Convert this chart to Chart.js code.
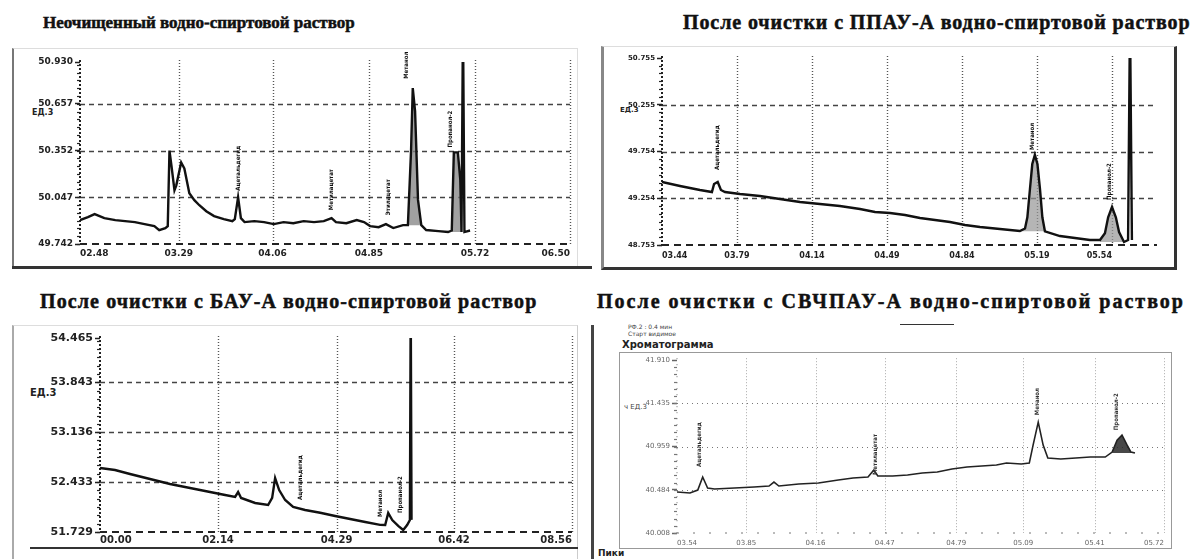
<!DOCTYPE html>
<html lang="ru">
<head>
<meta charset="utf-8">
<title>Хроматограммы водно-спиртовых растворов</title>
<script src="https://cdn.jsdelivr.net/npm/chart.js@4.4.1/dist/chart.umd.min.js"></script>
<style>
  html, body { margin: 0; padding: 0; background: #fff; }
  body { width: 1193px; height: 559px; position: relative; overflow: hidden; font-family: 'DejaVu Sans', sans-serif; }
  .title { position: absolute; font-family: 'Liberation Serif', serif; font-weight: bold; font-size: 20px; color: #111;
           white-space: nowrap; line-height: 1; -webkit-text-stroke: 0.5px #111; }
  .box { position: absolute; box-sizing: border-box; }
  .txt { position: absolute; white-space: nowrap; color: #222; line-height: 1; }
  canvas { position: absolute; z-index: 2; }
</style>
</head>
<body>

<div class="title" style="left:43px; top:14px; font-size:17px;">Неочищенный водно-спиртовой раствор</div>
<div class="title" style="left:683px; top:12px; letter-spacing:0.9px;">После очистки с ППАУ-А водно-спиртовой раствор</div>
<div class="title" style="left:40px; top:291px; letter-spacing:1.1px;">После очистки с БАУ-А водно-спиртовой раствор</div>
<div class="title" style="left:597px; top:291px; letter-spacing:2px;">После очистки с СВЧПАУ-А водно-спиртовой раствор</div>

<!-- рамки панелей -->
<div class="box" style="left:12px; top:48px; width:566px; height:221px; border-left:2px solid #777; border-top:1px solid #ddd; border-right:1px solid #ddd;"></div>
<div class="box" style="left:12px; top:266px; width:580px; height:3px; background:#333;"></div>
<div class="box" style="left:601px; top:46px; width:576px; height:224px; border-left:3px solid #888; border-right:3px solid #333; border-bottom:3px solid #333; border-top:1px solid #ddd;"></div>
<div class="box" style="left:12px; top:325px; width:566px; height:234px; border-left:2px solid #aaa; border-top:1px solid #ddd; border-right:1px solid #ccc;"></div>
<div class="box" style="left:30px; top:547px; width:548px; height:2px; background:#333;"></div>
<div class="box" style="left:591px; top:325px; width:3px; height:234px; background:#444;"></div>
<div class="box" style="left:619px; top:352px; width:553px; height:197px; border:1px solid #999;"></div>
<div class="box" style="left:900px; top:324px; width:54px; height:1px; background:#333;"></div>

<div class="txt" style="left:628px; top:324px; font-size:6px; color:#444;">РФ.2 : 0.4 мин</div>
<div class="txt" style="left:628px; top:331px; font-size:6px; color:#444;">Старт видимое</div>
<div class="txt" style="left:622px; top:340px; font-size:10px; font-weight:bold;">Хроматограмма</div>
<div class="txt" style="left:598px; top:549px; font-size:9px; font-weight:bold;">Пики</div>

<!-- единицы по оси сигнала -->
<div class="txt" style="left:32px; top:109px; font-size:8px; font-weight:bold;">ЕД.3</div>
<div class="txt" style="left:620px; top:107px; font-size:7px; font-weight:bold;">ЕД.3</div>
<div class="txt" style="left:30px; top:388px; font-size:10px; font-weight:bold;">ЕД.3</div>
<div class="txt" style="left:624px; top:404px; font-size:7px; color:#444;">ч ЕД.3</div>

<canvas id="c1"></canvas>
<canvas id="c2"></canvas>
<canvas id="c3"></canvas>
<canvas id="c4"></canvas>

<script>
// Неочищенный раствор: время, мин / сигнал
const time1 = [2.48, 2.545, 2.60, 2.68, 2.77, 2.85, 2.93, 3.01, 3.09, 3.13, 3.18, 3.20, 3.214, 3.23, 3.255, 3.27,
  3.31, 3.336, 3.377, 3.418, 3.459, 3.516, 3.58, 3.66, 3.73, 3.75, 3.777, 3.80, 3.83, 3.91, 3.99, 4.07, 4.15, 4.23,
  4.315, 4.40, 4.48, 4.544, 4.58, 4.665, 4.75, 4.81, 4.86, 4.93, 4.99, 5.05, 5.13, 5.17, 5.196, 5.21, 5.229, 5.253,
  5.28, 5.32, 5.42, 5.50, 5.53, 5.547, 5.58, 5.60, 5.61, 5.622, 5.634, 5.68];
const signal1 = [49.898, 49.917, 49.937, 49.911, 49.898, 49.891, 49.885, 49.872, 49.859, 49.833, 49.846, 49.859, 50.352,
  50.255, 50.093, 50.125, 50.274, 50.235, 50.073, 50.028, 49.995, 49.956, 49.924, 49.904, 49.891, 49.904, 50.047, 49.911,
  49.885, 49.891, 49.885, 49.872, 49.885, 49.878, 49.891, 49.885, 49.891, 49.911, 49.885, 49.878, 49.898, 49.885, 49.859,
  49.852, 49.872, 49.846, 49.865, 49.865, 50.352, 50.760, 50.610, 50.030, 49.865, 49.833, 49.826, 49.820, 49.830, 50.340,
  50.340, 50.160, 49.820, 51.200, 49.820, 49.830];
const xTicks1 = [2.48, 3.29, 4.06, 4.85, 5.72, 6.50];
const yTicks1 = [49.742, 50.047, 50.352, 50.657, 50.930];
const peakNames1 = ['Ацетальдегид', 'Метилацетат', 'Этилацетат', 'Метанол', 'Пропанол-2'];
const peakTimes1 = [3.777, 4.544, 5.009, 5.155, 5.52];
const peakLevels1 = [50.09, 49.963, 49.93, 50.82, 50.372];
const peakFrom1 = [5.17, 5.53];
const peakTo1 = [5.28, 5.61];

// После очистки с ППАУ-А
const time2 = [3.44, 3.524, 3.617, 3.673, 3.683, 3.70, 3.715, 3.734, 3.804, 3.897, 3.99, 4.084, 4.177, 4.27, 4.364,
  4.434, 4.504, 4.574, 4.644, 4.714, 4.784, 4.854, 4.924, 5.017, 5.11, 5.134, 5.145, 5.157, 5.168, 5.18, 5.192, 5.204,
  5.215, 5.227, 5.297, 5.367, 5.437, 5.484, 5.507, 5.522, 5.54, 5.558, 5.573, 5.596, 5.615, 5.624, 5.633];
const signal2 = [49.428, 49.385, 49.342, 49.320, 49.406, 49.428, 49.342, 49.320, 49.299, 49.278, 49.245, 49.213, 49.192,
  49.170, 49.138, 49.106, 49.096, 49.074, 49.042, 49.020, 48.999, 48.967, 48.946, 48.924, 48.903, 48.930, 49.050, 49.350,
  49.620, 49.717, 49.620, 49.350, 49.050, 48.900, 48.849, 48.828, 48.806, 48.806, 48.880, 49.050, 49.160, 49.050, 48.892,
  48.785, 48.806, 51.200, 48.806];
const xTicks2 = [3.44, 3.79, 4.14, 4.49, 4.84, 5.19, 5.54];
const yTicks2 = [48.753, 49.254, 49.754, 50.255, 50.755];
const peakNames2 = ['Ацетальдегид', 'Метанол', 'Пропанол-2'];
const peakTimes2 = [3.697, 5.171, 5.53];
const peakLevels2 = [49.556, 49.77, 49.235];
const peakFrom2 = [5.11, 5.484];
const peakTo2 = [5.227, 5.596];

// После очистки с БАУ-А
const time3 = [0, 0.272, 0.544, 0.907, 1.27, 1.633, 1.996, 2.269, 2.45, 2.505, 2.559, 2.813, 3.049, 3.122, 3.176, 3.249,
  3.358, 3.503, 3.72, 3.993, 4.265, 4.537, 4.81, 5.08, 5.172, 5.227, 5.30, 5.408, 5.499, 5.57, 5.62, 5.635, 5.65];
const signal3 = [52.632, 52.603, 52.547, 52.476, 52.406, 52.350, 52.293, 52.251, 52.223, 52.293, 52.209, 52.138, 52.110,
  52.209, 52.490, 52.321, 52.180, 52.082, 52.039, 52.000, 51.955, 51.912, 51.870, 51.830, 51.828, 51.997, 51.898, 51.814,
  51.757, 51.828, 51.898, 55.000, 51.900];
const xTicks3 = [0, 2.14, 4.29, 6.42, 8.56];
const yTicks3 = [51.729, 52.433, 53.136, 53.843, 54.465];
const peakNames3 = ['Ацетальдегид', 'Метанол', 'Пропанол-2'];
const peakTimes3 = [3.63, 5.08, 5.44];
const peakLevels3 = [52.18, 51.94, 51.997];

// После очистки с СВЧПАУ-А
const time4 = [3.54, 3.598, 3.633, 3.655, 3.677, 3.708, 3.797, 3.885, 3.952, 3.974, 3.996, 4.085, 4.173, 4.262, 4.328,
  4.395, 4.421, 4.439, 4.505, 4.572, 4.638, 4.705, 4.771, 4.838, 4.904, 4.97, 5.015, 5.081, 5.117, 5.134, 5.157, 5.179,
  5.20, 5.258, 5.325, 5.39, 5.457, 5.488, 5.51, 5.532, 5.555, 5.572, 5.59];
const signal4 = [40.459, 40.448, 40.481, 40.624, 40.503, 40.492, 40.503, 40.514, 40.525, 40.569, 40.525, 40.547, 40.558,
  40.591, 40.613, 40.624, 40.701, 40.635, 40.635, 40.646, 40.668, 40.679, 40.712, 40.734, 40.745, 40.756, 40.778, 40.767,
  40.778, 40.975, 41.228, 40.975, 40.833, 40.822, 40.833, 40.844, 40.844, 40.899, 41.030, 41.085, 40.975, 40.899, 40.888];
const xTicks4 = [3.54, 3.85, 4.16, 4.47, 4.79, 5.09, 5.41, 5.72];
const yTicks4 = [40.008, 40.484, 40.959, 41.435, 41.910];
const peakNames4 = ['Ацетальдегид', 'Метилацетат', 'Метанол', 'Пропанол-2'];
const peakTimes4 = [3.642, 4.43, 5.152, 5.506];
const peakLevels4 = [40.734, 40.646, 41.305, 41.14];
const peakFrom4 = [5.488];
const peakTo4 = [5.59];

const fmtTime = v => v.toFixed(2).padStart(5, '0');

// сетка и оси в стиле хроматографа
const scopeGrid = {
  id: 'scopeGrid',
  beforeDatasetsDraw(chart, args, o) {
    const { ctx, chartArea: a, scales: { x, y } } = chart;
    const line = (x1, y1, x2, y2) => { ctx.beginPath(); ctx.moveTo(x1, y1); ctx.lineTo(x2, y2); ctx.stroke(); };
    ctx.save();
    ctx.strokeStyle = o.hColor; ctx.lineWidth = o.hWidth; ctx.setLineDash(o.hDash);
    y.ticks.forEach(t => {
      if (t.value <= y.min || t.value >= y.max) return;
      const p = Math.round(y.getPixelForValue(t.value)) + 0.5;
      line(a.left, p, a.right, p);
    });
    ctx.strokeStyle = o.vColor; ctx.lineWidth = o.vWidth; ctx.setLineDash(o.vDash);
    x.ticks.forEach(t => {
      if (t.value <= x.min) return;
      const p = Math.round(x.getPixelForValue(t.value)) + 0.5;
      line(p, a.top - 2, p, a.bottom);
    });
    ctx.strokeStyle = o.axisColor; ctx.lineWidth = o.axisWidth;
    ctx.setLineDash(o.yAxisDash); line(a.left, a.top - 2, a.left, a.bottom);
    ctx.setLineDash(o.xAxisDash); line(a.left, a.bottom, a.right, a.bottom);
    // мелкие деления на оси сигнала
    ctx.setLineDash([]); ctx.lineWidth = 1.2;
    const step = (y.ticks[1].value - y.ticks[0].value) / 6;
    for (let v = y.min; v <= y.max; v += step) {
      const p = Math.round(y.getPixelForValue(v)) + 0.5;
      line(a.left - 3, p, a.left, p);
    }
    ctx.restore();
  }
};

// подписи пиков, вертикально
const peakNames = {
  id: 'peakNames',
  afterDatasetsDraw(chart, args, o) {
    const { ctx, scales: { x, y } } = chart;
    ctx.save();
    ctx.fillStyle = o.color;
    ctx.font = o.font;
    ctx.textBaseline = 'middle';
    ctx.textAlign = 'left';
    o.names.forEach((n, i) => {
      ctx.save();
      ctx.translate(x.getPixelForValue(o.times[i]), y.getPixelForValue(o.levels[i]));
      ctx.rotate(-Math.PI / 2);
      ctx.fillText(n, 0, 0);
      ctx.restore();
    });
    ctx.restore();
  }
};

function drawPanel(id, rect, plot, p) {
  const cv = document.getElementById(id);
  cv.width = rect.w; cv.height = rect.h;
  cv.style.left = rect.l + 'px'; cv.style.top = rect.t + 'px';
  const padTop = plot.t - rect.t;
  const padRight = rect.l + rect.w - plot.r;
  const yw = plot.l - rect.l;
  const xh = rect.t + rect.h - plot.b;

  const pts = p.time.map((t, i) => ({ x: t, y: p.signal[i] }));
  const datasets = [{
    data: pts, borderColor: p.lineColor, borderWidth: p.lineWidth,
    pointRadius: 0, tension: 0, fill: false
  }];
  (p.peakFrom || []).forEach((from, i) => {
    const seg = pts.filter(q => q.x >= from && q.x <= p.peakTo[i]);
    const base = Math.min(...seg.map(q => q.y));
    datasets.push({
      data: seg, borderWidth: 0, pointRadius: 0, tension: 0,
      backgroundColor: p.peakFill, fill: { value: base }
    });
  });

  return new Chart(cv, {
    type: 'line',
    data: { datasets },
    options: {
      responsive: false, animation: false, devicePixelRatio: 1,
      layout: { padding: { left: 0, top: padTop, right: padRight, bottom: 0 } },
      plugins: {
        legend: { display: false }, tooltip: { enabled: false },
        scopeGrid: p.grid,
        peakNames: { names: p.names, times: p.times, levels: p.levels, font: p.labelFont, color: p.labelColor }
      },
      scales: {
        x: {
          type: 'linear', min: p.xTicks[0], max: p.xMax,
          afterBuildTicks: s => { s.ticks = p.xTicks.map(v => ({ value: v })); },
          afterFit: s => { s.height = xh; },
          grid: { display: false, drawTicks: false }, border: { display: false },
          ticks: { callback: v => fmtTime(v), font: p.xFont, color: p.tickColor, padding: p.xPad,
                   maxRotation: 0, autoSkip: false, align: 'inner' }
        },
        y: {
          min: p.yTicks[0], max: p.yTicks[p.yTicks.length - 1],
          afterBuildTicks: s => { s.ticks = p.yTicks.map(v => ({ value: v })); },
          afterFit: s => { s.width = yw; },
          grid: { display: true, drawOnChartArea: false, drawTicks: true, tickLength: 5,
                  tickColor: p.tickColor, tickWidth: 1.5, color: p.tickColor },
          border: { display: false },
          ticks: { callback: v => v.toFixed(3), font: p.yFont, color: p.tickColor, padding: 2, autoSkip: false }
        }
      }
    },
    plugins: [scopeGrid, peakNames]
  });
}

const darkGrid = {
  hColor: '#444', hWidth: 1.6, hDash: [5, 4],
  vColor: '#555', vWidth: 1.4, vDash: [1, 2],
  axisColor: '#222', axisWidth: 2, yAxisDash: [2, 2], xAxisDash: [7, 5]
};
const lightGrid = {
  hColor: '#777', hWidth: 1, hDash: [1, 4],
  vColor: '#aaa', vWidth: 1, vDash: [1, 2],
  axisColor: '#777', axisWidth: 1, yAxisDash: [1, 5], xAxisDash: [2, 14]
};

drawPanel('c1', { l: 14, t: 50, w: 560, h: 215 }, { l: 80, t: 62, r: 572, b: 244 }, {
  time: time1, signal: signal1, xTicks: xTicks1, xMax: 6.50, yTicks: yTicks1,
  names: peakNames1, times: peakTimes1, levels: peakLevels1,
  peakFrom: peakFrom1, peakTo: peakTo1, peakFill: 'rgba(130,130,130,0.75)',
  lineColor: '#111', lineWidth: 2.4, grid: darkGrid, tickColor: '#222', xPad: 4,
  xFont: { family: 'DejaVu Sans', size: 9, weight: 'bold' },
  yFont: { family: 'DejaVu Sans', size: 9, weight: 'bold' },
  labelFont: 'bold 6px "DejaVu Sans Condensed", "DejaVu Sans"', labelColor: '#111'
});

drawPanel('c2', { l: 605, t: 50, w: 568, h: 215 }, { l: 662, t: 58, r: 1157, b: 245 }, {
  time: time2, signal: signal2, xTicks: xTicks2, xMax: 5.75, yTicks: yTicks2,
  names: peakNames2, times: peakTimes2, levels: peakLevels2,
  peakFrom: peakFrom2, peakTo: peakTo2, peakFill: 'rgba(150,150,150,0.7)',
  lineColor: '#111', lineWidth: 2.4, grid: darkGrid, tickColor: '#222', xPad: 6,
  xFont: { family: 'DejaVu Sans', size: 8, weight: 'bold' },
  yFont: { family: 'DejaVu Sans', size: 7, weight: 'bold' },
  labelFont: 'bold 6px "DejaVu Sans Condensed", "DejaVu Sans"', labelColor: '#111'
});

drawPanel('c3', { l: 15, t: 328, w: 560, h: 218 }, { l: 100, t: 338, r: 572, b: 532 }, {
  time: time3, signal: signal3, xTicks: xTicks3, xMax: 8.56, yTicks: yTicks3,
  names: peakNames3, times: peakTimes3, levels: peakLevels3,
  lineColor: '#111', lineWidth: 2.4, grid: darkGrid, tickColor: '#222', xPad: 2,
  xFont: { family: 'DejaVu Sans', size: 10, weight: 'bold' },
  yFont: { family: 'DejaVu Sans', size: 11, weight: 'bold' },
  labelFont: 'bold 6px "DejaVu Sans Condensed", "DejaVu Sans"', labelColor: '#111'
});

drawPanel('c4', { l: 622, t: 354, w: 548, h: 194 }, { l: 677, t: 360, r: 1167, b: 533 }, {
  time: time4, signal: signal4, xTicks: xTicks4, xMax: 5.72, yTicks: yTicks4,
  names: peakNames4, times: peakTimes4, levels: peakLevels4,
  peakFrom: peakFrom4, peakTo: peakTo4, peakFill: 'rgba(40,40,40,0.85)',
  lineColor: '#222', lineWidth: 1.6, grid: lightGrid, tickColor: '#666', xPad: 6,
  xFont: { family: 'DejaVu Sans', size: 7 },
  yFont: { family: 'DejaVu Sans', size: 7 },
  labelFont: 'bold 6px "DejaVu Sans Condensed", "DejaVu Sans"', labelColor: '#333'
});
</script>
</body>
</html>
